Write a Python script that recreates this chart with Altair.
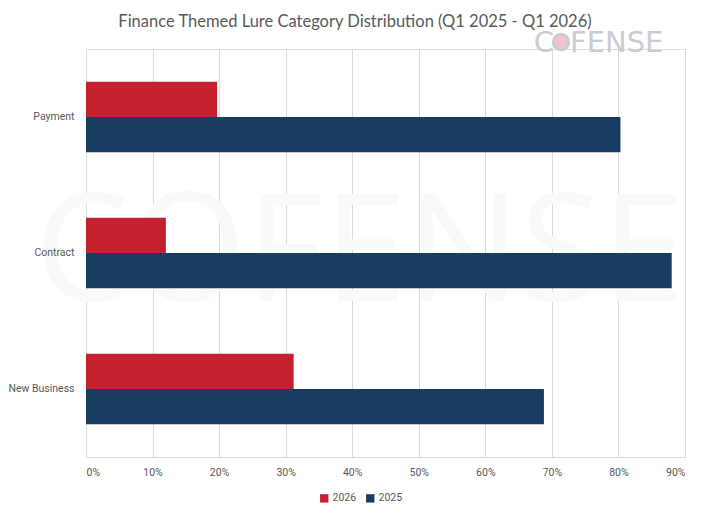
import altair as alt
import pandas as pd

categories = ["Payment", "Contract", "New Business"]
years = ["2026", "2025"]
share_2026 = [0.197, 0.120, 0.312]
share_2025 = [0.803, 0.880, 0.688]
x_ticks = [0, 0.1, 0.2, 0.3, 0.4, 0.5, 0.6, 0.7, 0.8, 0.9]
colors = ["#C4202F", "#183C62"]
title_text = "Finance Themed Lure Category Distribution (Q1 2025 - Q1 2026)"

rows = []
for c, a, b in zip(categories, share_2026, share_2025):
    rows.append({"category": c, "year": "2026", "share": a})
    rows.append({"category": c, "year": "2025", "share": b})
df = pd.DataFrame(rows)

W, H = 599, 408
grey = "#595959"
lab_font = "Roboto"
logo_grey = "#c9ccd0"

watermark = alt.Chart(pd.DataFrame({"t": ["COFENSE"]})).mark_text(
    font="Open Sans", fontSize=150, color="#f9f9f9", baseline="middle", align="center"
).encode(x=alt.value(274), y=alt.value(207), text="t:N")

bars = alt.Chart(df).mark_bar().encode(
    y=alt.Y("category:N", sort=categories,
            scale=alt.Scale(paddingInner=0.48, paddingOuter=0.24),
            axis=alt.Axis(title=None, domain=False, ticks=False, labelPadding=12,
                          labelFont=lab_font, labelFontSize=10.5, zindex=1,
                          labelColor=grey)),
    yOffset=alt.YOffset("year:N", sort=years, scale=alt.Scale(paddingInner=0, paddingOuter=0)),
    x=alt.X("share:Q", scale=alt.Scale(domain=[0, 0.9], nice=False),
            axis=alt.Axis(title=None, format=".0%", values=x_ticks, domain=False, ticks=False,
                          grid=True, gridColor="#d9d9d9", labelPadding=10,
                          labelFont=lab_font, labelFontSize=10.5,
                          labelColor=grey)),
    color=alt.Color("year:N", sort=years,
                    scale=alt.Scale(domain=years, range=colors),
                    legend=alt.Legend(title=None, orient="none", direction="horizontal",
                                      legendX=233, legendY=444, symbolType="square",
                                      symbolSize=70, symbolStrokeWidth=0,
                                      labelFont=lab_font, labelFontSize=10.5,
                                      labelColor=grey, columnPadding=8, labelOffset=3)),
)

title = alt.Chart(pd.DataFrame({"t": [title_text]})).mark_text(
    font="Lato", fontSize=16.5, color=grey, baseline="alphabetic", align="center"
).encode(x=alt.value(269), y=alt.value(-22), text="t:N")

logo_c = alt.Chart(pd.DataFrame({"t": ["C"]})).mark_text(
    font="DejaVu Sans", fontSize=29, color=logo_grey, baseline="middle", align="right"
).encode(x=alt.value(468), y=alt.value(-6.5), text="t:N")

logo_o = alt.Chart(pd.DataFrame({"t": ["O"]})).mark_point(
    filled=False, shape="circle", size=240, fill="#f2c4c9", stroke=logo_grey,
    strokeWidth=3, opacity=1
).encode(x=alt.value(475), y=alt.value(-7))

logo_rest = alt.Chart(pd.DataFrame({"t": ["FENSE"]})).mark_text(
    font="DejaVu Sans", fontSize=29, color=logo_grey, baseline="middle", align="left"
).encode(x=alt.value(484), y=alt.value(-6.5), text="t:N")

chart = alt.layer(watermark, bars, title, logo_c, logo_o, logo_rest).properties(
    width=W, height=H,
    autosize=alt.AutoSizeParams(type="none"),
    padding={"left": 78, "top": 41, "right": 18, "bottom": 54},
).configure_view(stroke=None).configure(background="white")

chart.save("out.html", embed_options={"renderer": "svg", "actions": False})
